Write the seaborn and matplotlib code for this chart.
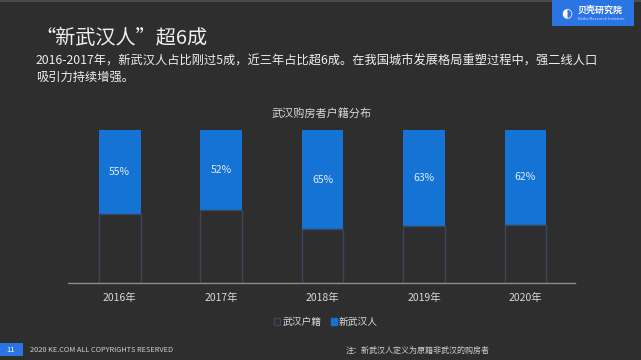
import matplotlib
matplotlib.use("Agg")
import matplotlib.pyplot as plt
from matplotlib.patches import Rectangle, Patch
import seaborn as sns
import pandas as pd

years = ["2016年", "2017年", "2018年", "2019年", "2020年"]
new_pct = [55, 52, 65, 63, 62]      # 新武汉人
local_pct = [45, 48, 35, 37, 38]    # 武汉户籍
series_names = ["武汉户籍", "新武汉人"]

title = "“新武汉人”超6成"
subtitle1 = "2016-2017年，新武汉人占比刚过5成，近三年占比超6成。在我国城市发展格局重塑过程中，强二线人口"
subtitle2 = "吸引力持续增强。"
chart_title = "武汉购房者户籍分布"
note = "注：新武汉人定义为原籍非武汉的购房者"
footer = "2020 KE.COM ALL COPYRIGHTS RESERVED"
page_no = "11"

BG = "#2e2e2e"
BLUE = "#1673d6"
EDGE = "#3b4659"
TXT = "#d9d9d9"

sns.set_theme(style="white")
plt.rcParams["font.family"] = ["Noto Sans CJK SC", "DejaVu Sans"]

W, H = 641, 360
fig = plt.figure(figsize=(W / 100, H / 100), dpi=100, facecolor=BG)

df = pd.DataFrame({"year": years, "new": new_pct, "local": local_pct})
df["total"] = df["new"] + df["local"]

ax = fig.add_axes([68 / W, (H - 283) / H, (575 - 68) / W, (283 - 130) / H])
ax.set_facecolor(BG)

sns.barplot(data=df, x="year", y="total", color=BLUE, width=0.41,
            saturation=1, ax=ax, linewidth=0)
sns.barplot(data=df, x="year", y="local", color=BG, width=0.41,
            saturation=1, ax=ax, edgecolor=EDGE, linewidth=1.0)
if ax.get_legend() is not None:
    ax.get_legend().remove()

for i, (n, l) in enumerate(zip(new_pct, local_pct)):
    ax.text(i, l + n / 2, f"{n}%", ha="center", va="center",
            color="#e0ecf8", fontsize=7.5)

ax.set_xlim(-0.51, 4.49)
ax.set_ylim(0, 100)
ax.set_xlabel("")
ax.set_ylabel("")
ax.set_yticks([])
for s in ["top", "right", "left"]:
    ax.spines[s].set_visible(False)
ax.spines["bottom"].set_color("#8a8a8a")
ax.spines["bottom"].set_linewidth(1.0)
ax.tick_params(axis="x", length=0, colors=TXT, labelsize=7.5, pad=7)

# chart title
fig.text(322 / W, 1 - 113 / H, chart_title, ha="center", va="center",
         color=TXT, fontsize=8)

# legend
handles = [Patch(facecolor=BG, edgecolor=EDGE, linewidth=1.0),
           Patch(facecolor=BLUE, edgecolor=BLUE)]
fig.legend(handles, series_names, loc="center",
           bbox_to_anchor=(326 / W, 1 - 322 / H), ncol=2, frameon=False,
           fontsize=7, labelcolor=TXT, handlelength=0.6, handleheight=0.6,
           handletextpad=0.2, columnspacing=1.0)

# page title and subtitle
fig.text(35 / W, 1 - 38 / H, title, ha="left", va="center",
         color="#f0f0f0", fontsize=14.5)
fig.text(36 / W, 1 - 61 / H, subtitle1, ha="left", va="center",
         color="#eeeeee", fontsize=8.8)
fig.text(36 / W, 1 - 77 / H, subtitle2, ha="left", va="center",
         color="#eeeeee", fontsize=8.8)

# top strip
fig.patches.append(Rectangle((0, 1 - 2 / H), 1, 2 / H, transform=fig.transFigure,
                             facecolor="#4a4a4a", edgecolor="none"))

# logo box
fig.patches.append(Rectangle((552 / W, 1 - 26 / H), 82 / W, 26 / H,
                             transform=fig.transFigure, facecolor="#2b74e4",
                             edgecolor="none"))
fig.text(567 / W, 1 - 13 / H, "◐", ha="center", va="center",
         color="white", fontsize=9, family=["DejaVu Sans"])
fig.text(578 / W, 1 - 10 / H, "贝壳研究院", ha="left", va="center",
         color="white", fontsize=6.5, fontweight="bold")
fig.text(578 / W, 1 - 19 / H, "Beike Research Institute", ha="left",
         va="center", color="#cfe0fb", fontsize=3)

# footer
fig.patches.append(Rectangle((0, 1 - 356 / H), 23 / W, 13 / H,
                             transform=fig.transFigure, facecolor="#2b74e4",
                             edgecolor="none"))
fig.text(11 / W, 1 - 349.5 / H, page_no, ha="center", va="center",
         color="white", fontsize=5.5)
fig.text(30 / W, 1 - 350 / H, footer, ha="left", va="center",
         color="#d0d0d0", fontsize=5.3)
fig.text(490 / W, 1 - 350 / H, note, ha="right", va="center",
         color="#d0d0d0", fontsize=5.8)

fig.savefig("out.png", dpi=100, facecolor=BG)
